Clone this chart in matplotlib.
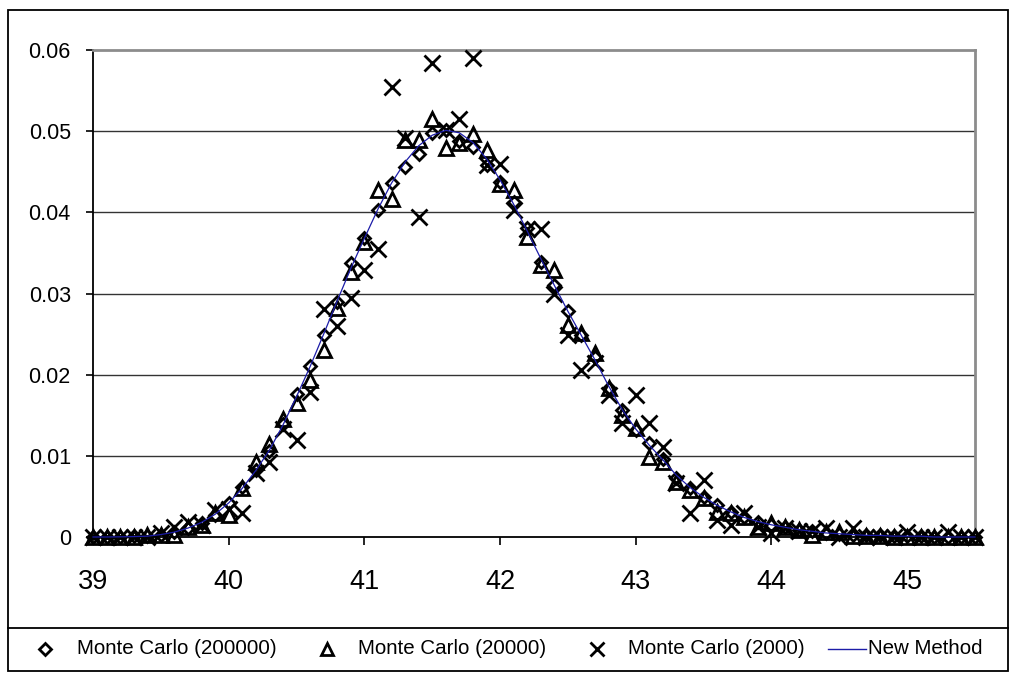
import matplotlib
matplotlib.use("Agg")
import matplotlib.pyplot as plt
from matplotlib.lines import Line2D
from matplotlib.patches import Rectangle
import numpy as np

plt.rcParams['font.family'] = ['Liberation Sans', 'DejaVu Sans']

x_values = [round(39.0 + 0.1 * i, 1) for i in range(66)]

mc_200000 = [0, 0, 0, 0.0001, 0.0001, 0.0003, 0.0006, 0.0011, 0.0017, 0.0027,
             0.0042, 0.0062, 0.0082, 0.0106, 0.0139, 0.0176, 0.0211, 0.0249, 0.0289, 0.0337,
             0.0368, 0.0403, 0.0436, 0.0456, 0.0472, 0.0498, 0.0502, 0.0488, 0.0480, 0.0458,
             0.0437, 0.0413, 0.0381, 0.0339, 0.0310, 0.0278, 0.0249, 0.0222, 0.0184, 0.0156,
             0.0132, 0.0116, 0.0096, 0.0073, 0.0060, 0.0049, 0.0039, 0.0031, 0.0025, 0.0018,
             0.0015, 0.0012, 0.0009, 0.0007, 0.0005, 0.0004, 0.0003, 0.0002, 0.0002, 0.0001,
             0.0001, 0.0001, 0, 0, 0, 0]

mc_20000 = [0, 0, 0, 0, 0.0002, 0.0002, 0.0002, 0.0012, 0.0015, 0.0030,
            0.0027, 0.0060, 0.0093, 0.0115, 0.0145, 0.0165, 0.0193, 0.0230, 0.0282, 0.0326,
            0.0363, 0.0427, 0.0417, 0.0489, 0.0489, 0.0515, 0.0479, 0.0486, 0.0496, 0.0477,
            0.0435, 0.0427, 0.0370, 0.0335, 0.0329, 0.0261, 0.0251, 0.0227, 0.0183, 0.0150,
            0.0134, 0.0099, 0.0093, 0.0068, 0.0058, 0.0048, 0.0031, 0.0030, 0.0025, 0.0012,
            0.0017, 0.0012, 0.0009, 0.0003, 0.0006, 0.0006, 0.0001, 0.0001, 0.0001, 0,
            0, 0, 0, 0, 0, 0]

mc_2000 = [0, 0, 0, 0, 0, 0.0005, 0.0012, 0.0018, 0.0015, 0.0033,
           0.0035, 0.0030, 0.0079, 0.0093, 0.0133, 0.0120, 0.0179, 0.0281, 0.0260, 0.0294,
           0.0329, 0.0355, 0.0554, 0.0491, 0.0394, 0.0584, 0.0502, 0.0515, 0.0590, 0.0458,
           0.0460, 0.0403, 0.0380, 0.0380, 0.0300, 0.0249, 0.0206, 0.0214, 0.0175, 0.0140,
           0.0175, 0.0140, 0.0111, 0.0066, 0.0030, 0.0070, 0.0021, 0.0015, 0.0030, 0.0012,
           0.0005, 0.0011, 0.0008, 0.0007, 0.0011, 0, 0.0011, 0, 0, 0,
           0.0006, 0, 0, 0.0006, 0, 0]

new_method = [0, 0, 0.00002, 0.00005, 0.0001, 0.0003, 0.0006, 0.0011, 0.0018, 0.0028,
              0.0042, 0.0060, 0.0082, 0.0107, 0.0138, 0.0173, 0.0210, 0.0250, 0.0291, 0.0331,
              0.0368, 0.0404, 0.0436, 0.0462, 0.0482, 0.0495, 0.0501, 0.0498, 0.0486, 0.0466,
              0.0440, 0.0410, 0.0377, 0.0343, 0.0310, 0.0278, 0.0248, 0.0218, 0.0186, 0.0157,
              0.0133, 0.0113, 0.0095, 0.0076, 0.0061, 0.0049, 0.0039, 0.0031, 0.0024, 0.0019,
              0.0015, 0.0012, 0.0009, 0.0007, 0.0005, 0.0004, 0.0003, 0.0002, 0.0002, 0.0001,
              0.0001, 0.0001, 0, 0, 0, 0]

x_ticks = [39, 40, 41, 42, 43, 44, 45]
y_ticks = [0, 0.01, 0.02, 0.03, 0.04, 0.05, 0.06]
y_tick_labels = ["0", "0.01", "0.02", "0.03", "0.04", "0.05", "0.06"]
labels = ["Monte Carlo (200000)", "Monte Carlo (20000)", "Monte Carlo (2000)", "New Method"]

W, H = 1011, 673
fig = plt.figure(figsize=(W / 100, H / 100), dpi=100)
fig.patch.set_facecolor('white')

def fx(px):
    return px / W

def fy(py):
    return 1 - py / H

ax_left, ax_right, ax_top, ax_bottom = 93, 975, 50, 537
ax = fig.add_axes([fx(ax_left), fy(ax_bottom), fx(ax_right - ax_left), (ax_bottom - ax_top) / H])

line_color = '#1c1ca8'
ax.plot(x_values, mc_200000, linestyle='none', marker='D', markersize=6.6,
        markerfacecolor='none', markeredgecolor='black', markeredgewidth=2.0, clip_on=False, zorder=3)
ax.plot(x_values, mc_20000, linestyle='none', marker='^', markersize=10,
        markerfacecolor='none', markeredgecolor='black', markeredgewidth=2.0, clip_on=False, zorder=3)
ax.plot(x_values, mc_2000, linestyle='none', marker='x', markersize=11.5,
        markeredgecolor='black', markeredgewidth=2.0, clip_on=False, zorder=3)
ax.plot(x_values, new_method, color=line_color, linewidth=0.9, zorder=4, clip_on=False)

ax.set_xlim(39, 45.5)
ax.set_ylim(0, 0.06)
ax.set_xticks(x_ticks)
ax.set_xticklabels([str(t) for t in x_ticks], fontsize=19.5)
ax.set_yticks(y_ticks)
ax.set_yticklabels(y_tick_labels, fontsize=15.5)
ax.tick_params(axis='x', direction='out', length=6, width=1.2, pad=17, colors='black')
ax.tick_params(axis='y', direction='out', length=5, width=1.2, pad=11, colors='black')

for yv in y_ticks[1:-1]:
    ax.axhline(yv, color='#333333', linewidth=1.0, zorder=1)

ax.spines['left'].set_color('black')
ax.spines['left'].set_linewidth(1.3)
ax.spines['bottom'].set_color('black')
ax.spines['bottom'].set_linewidth(1.3)
ax.spines['top'].set_color('#8c8c8c')
ax.spines['top'].set_linewidth(2.0)
ax.spines['right'].set_color('#8c8c8c')
ax.spines['right'].set_linewidth(2.0)

# outer chart border and legend box
fig.add_artist(Rectangle((fx(8), fy(671)), fx(1000), (671 - 10) / H, transform=fig.transFigure,
                         fill=False, edgecolor='black', linewidth=1.3))
fig.add_artist(Line2D([fx(8), fx(1008)], [fy(628), fy(628)], transform=fig.transFigure,
                      color='black', linewidth=1.3))

# legend entries
ly = fy(649)
fs_leg = 14.8
fig.add_artist(Line2D([fx(45)], [ly], transform=fig.transFigure, marker='D', markersize=6.0,
                      markerfacecolor='none', markeredgecolor='black', markeredgewidth=2.0))
fig.text(fx(77), ly, labels[0], fontsize=fs_leg, va='center', ha='left')
fig.add_artist(Line2D([fx(327)], [ly], transform=fig.transFigure, marker='^', markersize=8.5,
                      markerfacecolor='none', markeredgecolor='black', markeredgewidth=2.0))
fig.text(fx(358), ly, labels[1], fontsize=fs_leg, va='center', ha='left')
fig.add_artist(Line2D([fx(597)], [ly], transform=fig.transFigure, marker='x', markersize=9.5,
                      markeredgecolor='black', markeredgewidth=2.0))
fig.text(fx(628), ly, labels[2], fontsize=fs_leg, va='center', ha='left')
fig.add_artist(Line2D([fx(828), fx(866)], [ly, ly], transform=fig.transFigure,
                      color=line_color, linewidth=1.0))
fig.text(fx(868), ly, labels[3], fontsize=fs_leg, va='center', ha='left')

fig.savefig('out.png', dpi=100, facecolor='white')
